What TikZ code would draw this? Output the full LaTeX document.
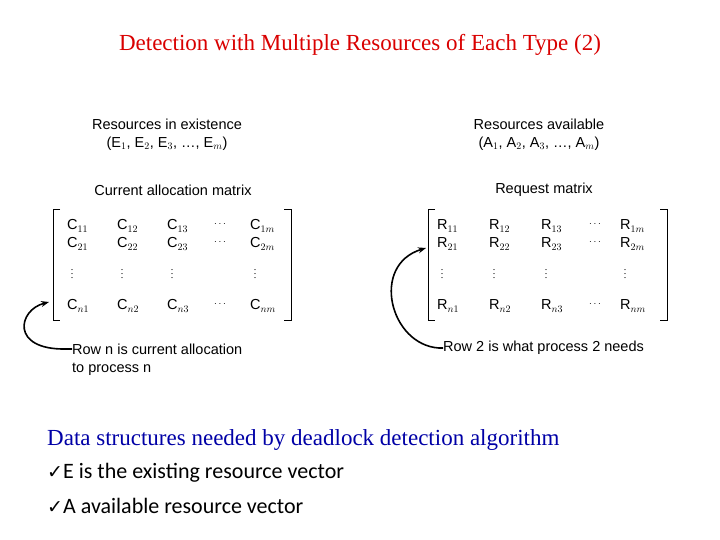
\documentclass[tikz,border=0pt]{standalone}
\usetikzlibrary{arrows.meta}
\usepackage{fontspec}
\setmainfont{Liberation Serif}
\newfontfamily\myhel{Liberation Sans}
\newfontfamily\mycal{Carlito}
\newfontfamily\mydj{DejaVu Sans}
\begin{document}
\begin{tikzpicture}[x=1pt,y=-1pt,
  lab/.style={font=\myhel\fontsize{14.5}{17}\selectfont,inner sep=0pt},
  el/.style={font=\myhel\fontsize{14.5}{17}\selectfont,inner sep=0pt,anchor=west},
  arr/.style={-{Stealth[length=8pt,width=6pt]},line width=1.6pt}]
\useasboundingbox (0,0) rectangle (720,540);
\node[inner sep=0pt,text=red!85!black,font=\fontsize{23}{26}\selectfont] (title) at (360,45) {Detection with Multiple Resources of Each Type (2)};
\node[lab] (re) at (167,124) {Resources in existence};
\node[lab] (ev) at (167,144) {(E$_{\myhel 1}$, E$_{\myhel 2}$, E$_{\myhel 3}$, \dots, E$_{\myhel m}$)};
\node[lab] (cam) at (173,190) {Current allocation matrix};
\node[lab] (ra) at (539,124) {Resources available};
\node[lab] (av) at (539,144) {(A$_{\myhel 1}$, A$_{\myhel 2}$, A$_{\myhel 3}$, \dots, A$_{\myhel m}$)};
\node[lab] (rm) at (544,190) {Request matrix};
\draw[line width=1pt] (60,210) -- (53,210) -- (53,320) -- (60,320);
\draw[line width=1pt] (284,210) -- (291,210) -- (291,320) -- (284,320);
\draw[line width=1pt] (435,210) -- (428,210) -- (428,320) -- (435,320);
\draw[line width=1pt] (660,210) -- (667,210) -- (667,320) -- (660,320);
\foreach \L/\xs/\xd/\xm in {C/{67,117,167}/220/250,R/{437,489,541}/595/620}{
  \foreach \x [count=\j] in \xs {
    \node[el] (\L1\j) at (\x,226) {\L$_{\myhel 1\j}$};
    \node[el] (\L2\j) at (\x,244) {\L$_{\myhel 2\j}$};
    \node[el] (\L n\j) at (\x,306) {\L$_{\myhel n\j}$};
    \node[inner sep=0pt] (\L v\j) at (\x+5,271) {$\vdots$};
  }
  \node[el] (\L1m) at (\xm,226) {\L$_{\myhel 1m}$};
  \node[el] (\L2m) at (\xm,244) {\L$_{\myhel 2m}$};
  \node[el] (\L nm) at (\xm,306) {\L$_{\myhel nm}$};
  \node[inner sep=0pt] (\L vm) at (\xm+5,271) {$\vdots$};
  \foreach \y/\r in {224/a,242/b,304/c} \node[inner sep=0pt] (\L d\r) at (\xd,\y) {$\cdots$};
}
\node[el] (rn) at (72,349) {Row n is current allocation};
\node[el] (tp) at (72,369) {to process n};
\node[el] (r2) at (443,348) {Row 2 is what process 2 needs};
\draw[arr] (rn.west) -- ++(-6,0) .. controls (10,350) and (18,310) .. (49,302);
\draw[arr] (r2.west) -- ++(-4,0) .. controls (390,345) and (370,265) .. (426,248);
\node[inner sep=0pt,anchor=west,text=blue!65!black,font=\fontsize{23}{26}\selectfont] (ds) at (47,440) {Data structures needed by deadlock detection algorithm};
\node[inner sep=0pt,anchor=west,font=\mycal\fontsize{22}{26}\selectfont] (e) at (47,473) {{\mydj\fontsize{19}{22}\selectfont ✓}E is the existing resource vector};
\node[inner sep=0pt,anchor=west,font=\mycal\fontsize{22}{26}\selectfont] (a) at (47,506) {{\mydj\fontsize{19}{22}\selectfont ✓}A available resource vector};
\end{tikzpicture}
\end{document}
